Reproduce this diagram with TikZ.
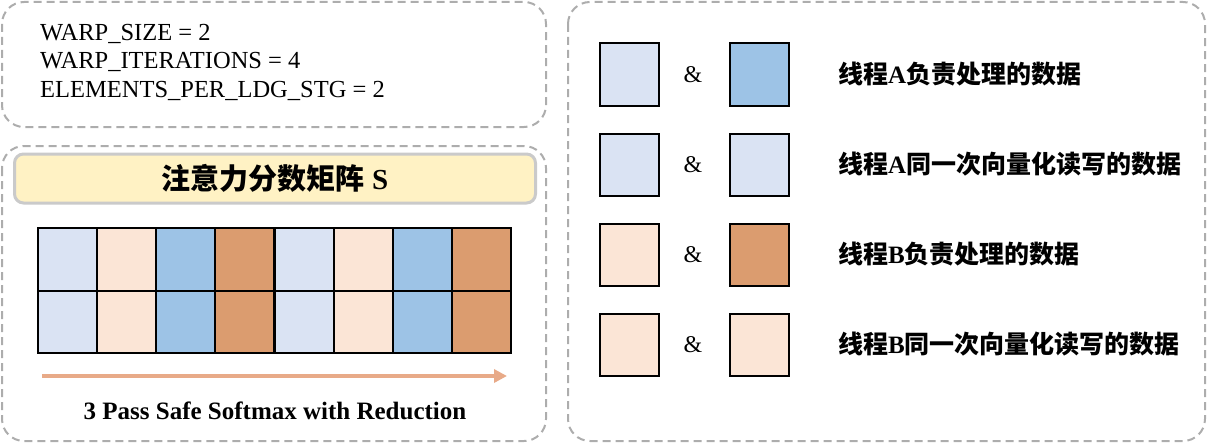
\documentclass[tikz,border=0pt]{standalone}
\usepackage{fontspec}
\usetikzlibrary{arrows.meta}
\setmainfont{Liberation Serif}
\newfontfamily\cjk{Noto Sans CJK SC}
\newcommand\zh[1]{{\cjk\bfseries #1}}
\definecolor{lblue}{HTML}{DAE3F3}
\definecolor{dblue}{HTML}{9DC3E6}
\definecolor{lpeach}{HTML}{FBE5D6}
\definecolor{dorange}{HTML}{DB9C6F}
\definecolor{dashgray}{HTML}{ADADAD}
\definecolor{titlefill}{HTML}{FFF2C4}
\definecolor{titleedge}{HTML}{CACACA}
\definecolor{arrowc}{HTML}{E8AA88}
\tikzset{
  panel/.style={draw=dashgray, line width=2pt, dash pattern=on 8pt off 5pt, rounded corners=22pt},
  cell/.style={draw=black, line width=2pt, minimum width=59pt, minimum height=62.5pt, inner sep=0pt, anchor=north west},
  legcell/.style={draw=black, line width=2pt, minimum width=59pt, minimum height=62pt, inner sep=0pt},
  amp/.style={font=\fontsize{24}{28}\selectfont},
  leglabel/.style={anchor=west, inner sep=0pt, font=\fontsize{25}{29}\selectfont\bfseries},
}
\begin{document}
\begin{tikzpicture}[x=1pt,y=-1pt]
\useasboundingbox (0,0) rectangle (1207,444);
% panels
\draw[panel] (2,2) rectangle (546,127);
\draw[panel] (2,146) rectangle (546,441);
\draw[panel] (568,2) rectangle (1205,441);
% parameters
\node[anchor=west, align=left, inner sep=0pt, font=\fontsize{24.5}{28.5}\selectfont] (params) at (40,62)
  {WARP\_SIZE = 2\\WARP\_ITERATIONS = 4\\ELEMENTS\_PER\_LDG\_STG = 2};
% title
\node[draw=titleedge, line width=3pt, fill=titlefill, rounded corners=9pt,
      minimum width=521pt, minimum height=49pt, inner sep=0pt,
      font=\fontsize{29}{33}\selectfont\bfseries] (title) at (275,178.5) {\zh{注意力分数矩阵} S};
% grid
\foreach \c/\col in {0/lblue,1/lpeach,2/dblue,3/dorange,4/lblue,5/lpeach,6/dblue,7/dorange}{
  \foreach \r in {0,1}{
    \node[cell, fill=\col] (g-\r-\c) at ({37+59.125*\c},{227+62.5*\r}) {};
  }
}
% arrow
\coordinate (arrS) at (42,376);
\coordinate (arrE) at (507,376);
\draw[arrowc, line width=4pt, -{Triangle[length=13pt,width=13pt]}] (arrS) -- (arrE);
\node[font=\fontsize{25}{29}\selectfont\bfseries] (caption) at (275,411) {3 Pass Safe Softmax with Reduction};
% legend
\foreach \i/\y/\ca/\cb/\lab in {
  1/74.5/lblue/dblue/{\zh{线程}A\zh{负责处理的数据}},
  2/164.5/lblue/lblue/{\zh{线程}A\zh{同一次向量化读写的数据}},
  3/254.5/lpeach/dorange/{\zh{线程}B\zh{负责处理的数据}},
  4/344.5/lpeach/lpeach/{\zh{线程}B\zh{同一次向量化读写的数据}}}{
  \node[legcell, fill=\ca] (la\i) at (629.5,\y) {};
  \node[amp] (amp\i) at (693,\y) {\&};
  \node[legcell, fill=\cb] (lb\i) at (759.5,\y) {};
  \node[leglabel] (lt\i) at (838,\y) {\lab};
}
\end{tikzpicture}
\end{document}
